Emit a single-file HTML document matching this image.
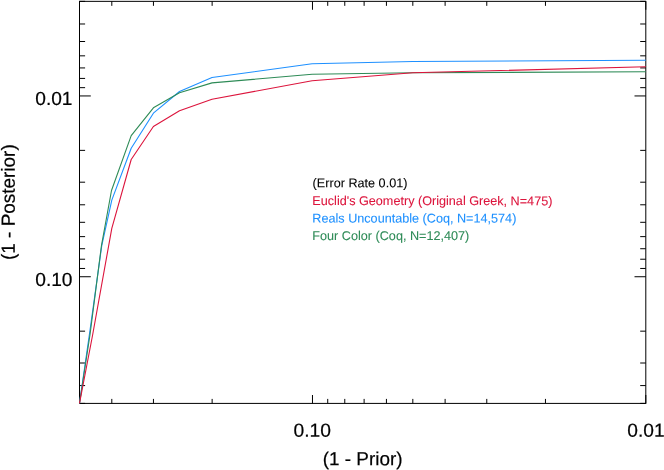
<!DOCTYPE html>
<html><head><meta charset="utf-8"><title>plot</title>
<style>
html,body{margin:0;padding:0;background:#fff;}
body{width:664px;height:470px;overflow:hidden;font-family:"Liberation Sans",sans-serif;}
svg{display:block;}
text{font-family:"Liberation Sans",sans-serif;text-rendering:geometricPrecision;}
</style></head><body>
<svg width="664" height="470" viewBox="0 0 664 470">
<rect x="0" y="0" width="664" height="470" fill="#ffffff"/>
<g id="axes" stroke="#000" stroke-width="1" fill="none">
<rect x="79.50" y="1.35" width="566.30" height="402.05"/>
<path d="M79.50 403.40V398.90M79.50 1.35V5.85M111.80 403.40V398.90M111.80 1.35V5.85M153.45 403.40V398.90M153.45 1.35V5.85M212.14 403.40V398.90M212.14 1.35V5.85M312.48 403.40V395.00M312.48 1.35V9.75M327.73 403.40V398.90M327.73 1.35V5.85M344.78 403.40V398.90M344.78 1.35V5.85M364.11 403.40V398.90M364.11 1.35V5.85M386.43 403.40V398.90M386.43 1.35V5.85M412.82 403.40V398.90M412.82 1.35V5.85M445.12 403.40V398.90M445.12 1.35V5.85M486.77 403.40V398.90M486.77 1.35V5.85M545.46 403.40V398.90M545.46 1.35V5.85M645.80 403.40V395.00M645.80 1.35V9.75"/>
<path d="M79.50 1.35H85.10M645.80 1.35H640.20M79.50 23.99H85.10M645.80 23.99H640.20M79.50 41.51H85.10M645.80 41.51H640.20M79.50 55.83H85.10M645.80 55.83H640.20M79.50 67.93H85.10M645.80 67.93H640.20M79.50 78.42H85.10M645.80 78.42H640.20M79.50 87.66H85.10M645.80 87.66H640.20M79.50 95.94H90.80M645.80 95.94H634.50M79.50 150.36H85.10M645.80 150.36H640.20M79.50 182.20H85.10M645.80 182.20H640.20M79.50 204.79H85.10M645.80 204.79H640.20M79.50 222.31H85.10M645.80 222.31H640.20M79.50 236.63H85.10M645.80 236.63H640.20M79.50 248.73H85.10M645.80 248.73H640.20M79.50 259.22H85.10M645.80 259.22H640.20M79.50 268.46H85.10M645.80 268.46H640.20M79.50 276.74H90.80M645.80 276.74H634.50M79.50 331.16H85.10M645.80 331.16H640.20M79.50 363.00H85.10M645.80 363.00H640.20M79.50 385.59H85.10M645.80 385.59H640.20M79.50 403.40H85.10M645.80 403.40H640.20"/>
</g>
<g id="curves">
<polyline fill="none" stroke="#1e90ff" stroke-width="1.1" stroke-linejoin="round" points="79.5,403.4 90.1,329.5 101.8,245.3 111.8,200.1 131.2,148.2 153.4,113.2 179.5,91.5 212.0,77.5 312.1,63.7 412.9,61.5 645.8,60.2"/>
<polyline fill="none" stroke="#2e8b57" stroke-width="1.1" stroke-linejoin="round" points="79.5,403.4 90.1,334.0 101.5,245.3 111.5,190.5 131.2,135.6 153.4,107.8 179.5,92.7 212.0,82.9 312.1,74.3 412.9,72.8 645.8,71.7"/>
<polyline fill="none" stroke="#dc143c" stroke-width="1.1" stroke-linejoin="round" points="79.5,403.4 92.8,334.0 111.8,228.3 131.2,159.5 153.4,126.5 179.5,110.8 212.0,99.2 312.1,80.7 412.9,72.8 645.8,66.8"/>
</g>
<g id="labels" style="opacity:0.999">
<text transform="translate(35.26,105.00) rotate(0.04) scale(1.0065,1)" font-size="19.00" fill="#000" stroke="#000" stroke-width="0.22">0.01</text>
<text transform="translate(35.25,285.90) rotate(0.04) scale(1.0079,1)" font-size="19.00" fill="#000" stroke="#000" stroke-width="0.22">0.10</text>
<text transform="translate(293.45,436.70) rotate(0.04) scale(1.0135,1)" font-size="19.00" fill="#000" stroke="#000" stroke-width="0.22">0.10</text>
<text transform="translate(627.25,436.70) rotate(0.04) scale(1.0094,1)" font-size="19.00" fill="#000" stroke="#000" stroke-width="0.22">0.01</text>
<text transform="translate(322.69,465.30) rotate(0.04) scale(0.9949,1)" font-size="19.00" fill="#000" stroke="#000" stroke-width="0.22">(1 - Prior)</text>
<text transform="translate(312.60,187.20) rotate(0.04) scale(0.9985,1)" font-size="12.67" fill="#000" stroke="#000" stroke-width="0.10">(Error Rate 0.01)</text>
<text transform="translate(312.35,205.00) rotate(0.04) scale(0.9981,1)" font-size="12.67" fill="#dc143c" stroke="#dc143c" stroke-width="0.10">Euclid's Geometry (Original Greek, N=475)</text>
<text transform="translate(312.35,222.45) rotate(0.04) scale(0.9981,1)" font-size="12.67" fill="#1e90ff" stroke="#1e90ff" stroke-width="0.10">Reals Uncountable (Coq, N=14,574)</text>
<text transform="translate(312.35,239.90) rotate(0.04) scale(0.9981,1)" font-size="12.67" fill="#2e8b57" stroke="#2e8b57" stroke-width="0.10">Four Color (Coq, N=12,407)</text>
<text transform="translate(14.75,260.01) rotate(-89.96) scale(0.9965,1)" font-size="19.00" fill="#000" stroke="#000" stroke-width="0.22">(1 - Posterior)</text>
</g>
</svg>
</body></html>
